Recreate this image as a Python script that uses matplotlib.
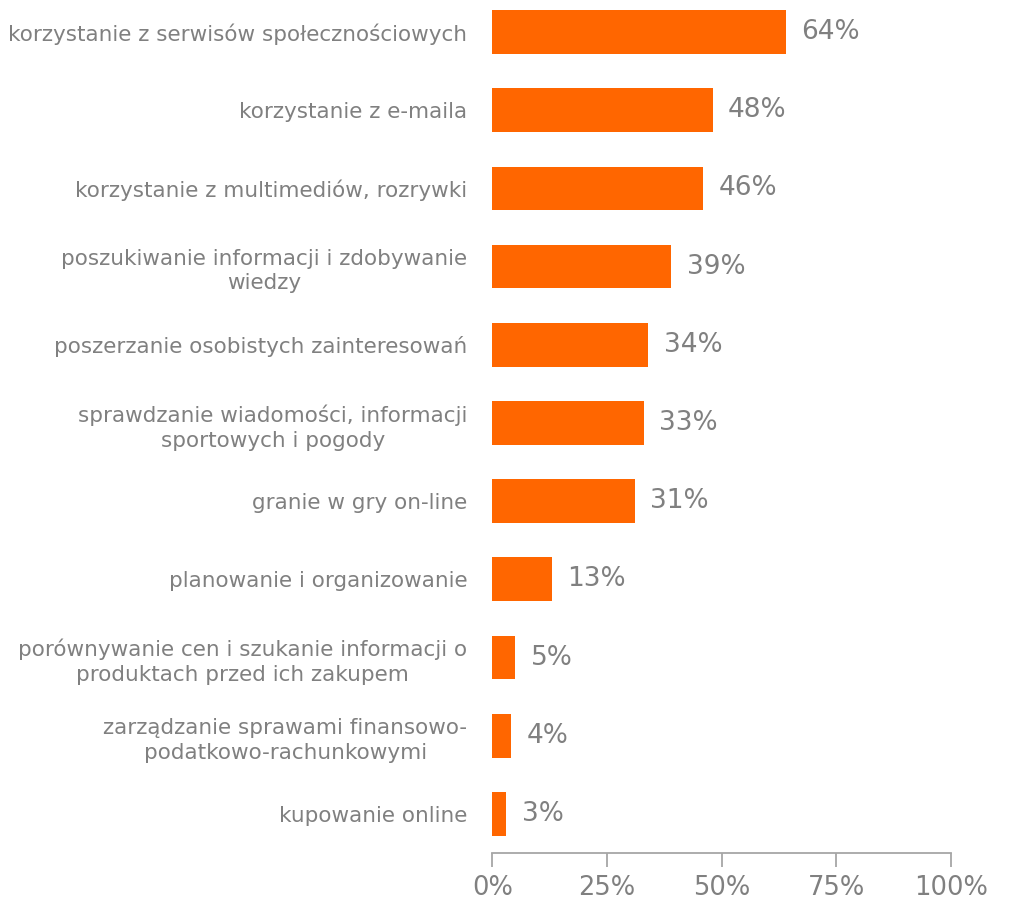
import matplotlib.pyplot as plt

categories = [
    "korzystanie z serwisów społecznościowych",
    "korzystanie z e-maila",
    "korzystanie z multimediów, rozrywki",
    "poszukiwanie informacji i zdobywanie\nwiedzy",
    "poszerzanie osobistych zainteresowań",
    "sprawdzanie wiadomości, informacji\nsportowych i pogody",
    "granie w gry on-line",
    "planowanie i organizowanie",
    "porównywanie cen i szukanie informacji o\nproduktach przed ich zakupem",
    "zarządzanie sprawami finansowo-\npodatkowo-rachunkowymi",
    "kupowanie online",
]
values = [64, 48, 46, 39, 34, 33, 31, 13, 5, 4, 3]
ticks = [0, 25, 50, 75, 100]

orange = "#ff6600"
grey_txt = "#808080"
grey_axis = "#a6a6a6"

fig = plt.figure(figsize=(10.13, 9.01), dpi=100)
ax = fig.add_axes([0.486, 0.0533, 0.453, 0.9467])

pos = list(range(len(values)))
ax.barh(pos, values, height=0.56, color=orange)

for p, v in zip(pos, values):
    ax.text(v + 3.4, p, f"{v}%", va="center", ha="left", fontsize=19, color=grey_txt)

ax.set_xlim(0, 100)
ax.set_ylim(10.5, -0.41)
ax.set_xticks(ticks)
ax.set_xticklabels([f"{t}%" for t in ticks], fontsize=18.5, color=grey_txt)
ax.set_yticks(pos)
ax.set_yticklabels(categories, fontsize=15.5, color=grey_txt, ha="right",
                   multialignment="center", linespacing=1.3)

for s in ["top", "right", "left"]:
    ax.spines[s].set_visible(False)
ax.spines["bottom"].set_color(grey_axis)
ax.spines["bottom"].set_linewidth(1.3)
ax.tick_params(axis="x", colors=grey_axis, length=10, width=1.3, pad=6, labelcolor=grey_txt)
ax.tick_params(axis="y", length=0, pad=18)

fig.savefig("out.png", dpi=100)
